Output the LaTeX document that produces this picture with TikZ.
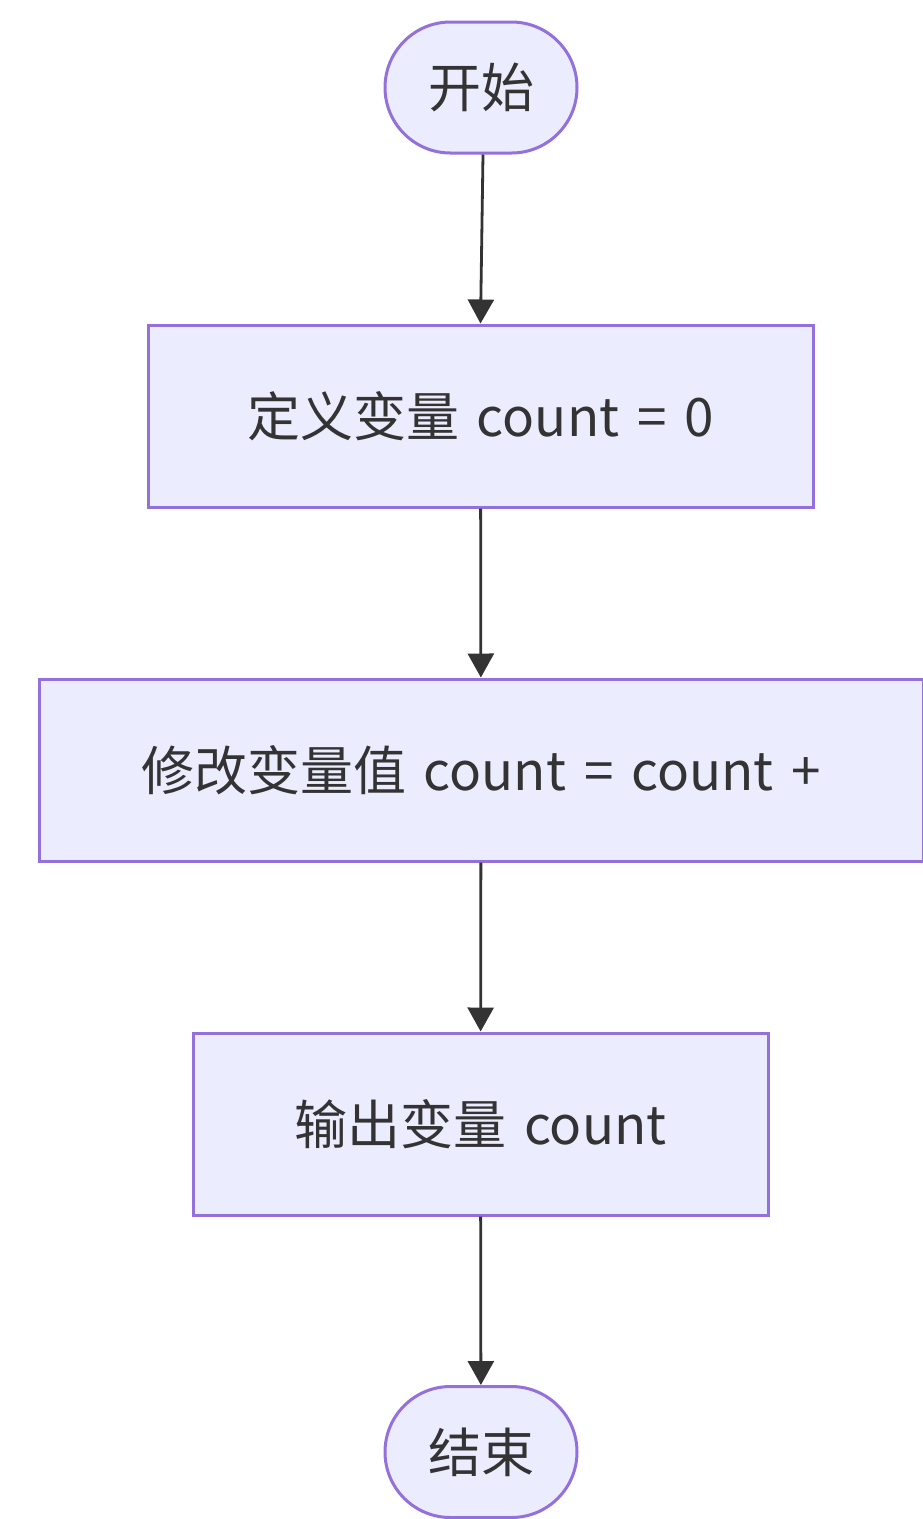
\documentclass[tikz,border=0pt]{standalone}
\usepackage{fontspec}
\setmainfont[WordSpace=1.5]{Noto Sans CJK SC}
\usetikzlibrary{arrows.meta,shapes.misc}
\definecolor{nodefill}{HTML}{ECECFF}
\definecolor{nodeborder}{HTML}{9370DB}
\definecolor{txt}{HTML}{333333}
\begin{document}
\begin{tikzpicture}[x=1pt,y=-1pt,
  base/.style={draw=nodeborder,fill=nodefill,line width=3pt,text=txt,font=\fontsize{53}{60}\selectfont,inner sep=0pt},
  stadium/.style={base,rounded rectangle,minimum width=192pt,minimum height=131pt},
  procbox/.style={base,rectangle,minimum height=182pt},
  conn/.style={draw=txt,line width=2.8pt,-{Triangle[width=26pt,length=24pt]}}]
\useasboundingbox (0,0) rectangle (923,1519);
\node[stadium] (start) at (481,87.5) {开始};
\node[procbox,minimum width=665pt] (def) at (480.5,416) {定义变量 count = 0};
\begin{scope}
\clip (0,0) rectangle (923,1519);
\node[procbox,minimum width=884pt] (mod) at (481,770) {修改变量值 count = count +};
\end{scope}
\node[procbox,minimum width=575pt] (out) at (480.5,1124) {输出变量 count};
\node[stadium] (end) at (481,1452) {结束};
\draw[conn] (start.south) ++(2,0) coordinate (s1) -- (def.north);
\draw[conn] (def) -- (mod);
\draw[conn] (mod) -- (out);
\draw[conn] (out) -- (end);
\end{tikzpicture}
\end{document}
